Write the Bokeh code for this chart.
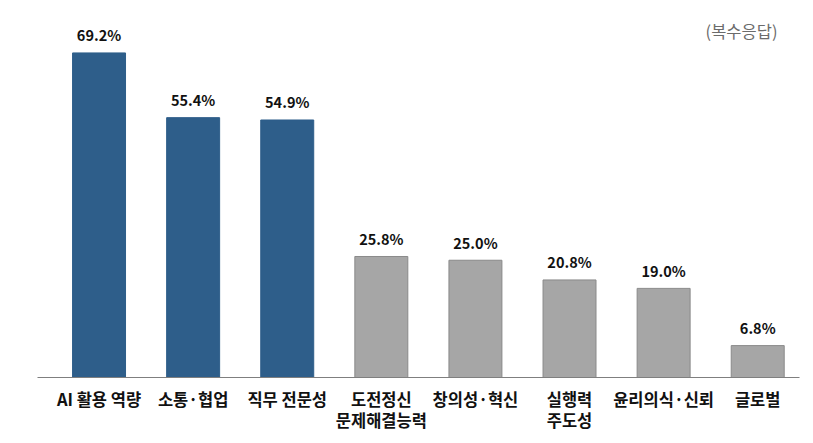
from bokeh.plotting import figure
from bokeh.models import ColumnDataSource, Range1d, FixedTicker, Label
from bokeh.core.properties import value
from bokeh.embed import file_html
from bokeh.resources import INLINE

categories = ["AI 활용 역량", "소통·협업", "직무 전문성", "도전정신\n문제해결능력",
              "창의성·혁신", "실행력\n주도성", "윤리의식·신뢰", "글로벌"]
values = [69.2, 55.4, 54.9, 25.8, 25.0, 20.8, 19.0, 6.8]
value_labels = ["69.2%", "55.4%", "54.9%", "25.8%", "25.0%", "20.8%", "19.0%", "6.8%"]
colors = ["#2E5E8A"] * 3 + ["#A6A6A6"] * 5
outlines = ["#2E5E8A"] * 3 + ["#8A8A8A"] * 5
note = "(복수응답)"

xs = list(range(len(categories)))
src = ColumnDataSource(dict(x=xs, top=values, color=colors, outline=outlines, label=value_labels))

FONT = "Noto Sans CJK KR"

p = figure(width=805, height=435, output_backend="svg", toolbar_location=None,
           x_range=Range1d(-0.654, 7.444), y_range=Range1d(0, 75.9),
           y_axis_location=None, min_border_left=37, min_border_right=6,
           min_border_top=21, min_border_bottom=58)
p.outline_line_color = None
p.grid.visible = False
p.background_fill_color = "white"
p.border_fill_color = "white"

p.vbar(x="x", top="top", width=0.563, bottom=0, fill_color="color", line_color="outline",
       line_width=1, source=src)

ax = p.xaxis[0]
ax.ticker = FixedTicker(ticks=xs)
ax.major_label_overrides = {i: c for i, c in zip(xs, categories)}
ax.major_tick_line_color = None
ax.minor_tick_line_color = None
ax.axis_line_color = "#7F7F7F"
ax.axis_line_width = 1.2
ax.major_label_text_font = FONT
ax.major_label_text_font_style = "bold"
ax.major_label_text_font_size = "16.5px"
ax.major_label_text_color = "#111111"
ax.major_label_text_line_height = 0.88
ax.major_label_standoff = 3

p.text(x="x", y="top", text="label", source=src, x_offset=0, y_offset=-18,
       text_align="center", text_baseline="alphabetic",
       text_font=value(FONT), text_font_style="bold", text_font_size="14.5px",
       text_color="#111111")

p.add_layout(Label(x=7.21, y=73.9, text=note, text_align="right", text_baseline="middle",
                   text_font=FONT, text_font_size="16.5px", text_color="#6B6B6B"))

open("out.html", "w").write(file_html(p, INLINE))
